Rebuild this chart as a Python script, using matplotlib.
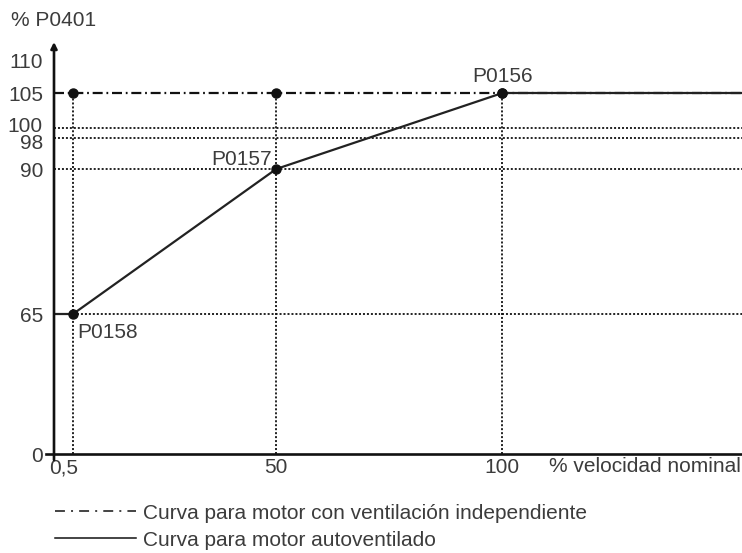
import numpy as np
import matplotlib.pyplot as plt
from matplotlib.lines import Line2D
from matplotlib.transforms import ScaledTranslation

# --- schematic torque-derating curve (non-linear axes) ---

# speed (% nominal) and current limit (% P0401)
speed_pts = [0.5, 50, 100]
self_vent = [65, 90, 105]          # P0158, P0157, P0156
indep_vent = [105, 105, 105]
point_names = ["P0158", "P0157", "P0156"]
y_ticks = [0, 65, 90, 98, 100, 105, 110]
x_ticks = [0.5, 50, 100]
x_tick_labels = ["0,5", "50", "100"]
x_end = 153

# knots for the schematic (piecewise linear) scales
x_knots = [0, 0.5, 50, 100, 160]
x_pos = [0, 19, 222, 448, 719]
y_knots = [0, 65, 90, 98, 100, 105, 110, 120]
y_pos = [0, 140, 285, 316, 326, 361, 394, 464]


def fwd_x(v):
    return np.interp(v, x_knots, x_pos)


def inv_x(p):
    return np.interp(p, x_pos, x_knots)


def fwd_y(v):
    return np.interp(v, y_knots, y_pos)


def inv_y(p):
    return np.interp(p, y_pos, y_knots)


plt.rcParams['font.family'] = ['Liberation Sans', 'DejaVu Sans']
txt_col = '#3c3c3c'
fs = 15

W, H = 742, 553
fig = plt.figure(figsize=(W / 100, H / 100), dpi=100)
ax = fig.add_axes([54 / W, (H - 454) / H, (W - 54) / W, (454 - 42) / H])
ax.set_xscale('function', functions=(fwd_x, inv_x))
ax.set_yscale('function', functions=(fwd_y, inv_y))
ax.set_xlim(0, x_end)
ax.set_ylim(0, inv_y(412))

for s in ax.spines.values():
    s.set_visible(False)

# axis lines with a small overhang, arrow on the vertical one
ax.plot([-8 / 688, 1], [0, 0], color='#111', lw=1.9, transform=ax.transAxes, clip_on=False)
ax.annotate('', xy=(0, 1.0), xytext=(0, -6 / 412), xycoords='axes fraction',
            arrowprops=dict(arrowstyle='-|>', color='#111', lw=1.9,
                            mutation_scale=9, shrinkA=0, shrinkB=0))

# grid guides
dot = dict(color='#111', lw=1.3, ls=(0, (1.1, 1.1)))
for yv in [65, 90, 98, 100]:
    ax.plot([speed_pts[0] if yv == 65 else 0, x_end], [yv, yv], **dot)
for xv in speed_pts:
    ax.plot([xv, xv], [0, 105], **dot)

# curves
ax.plot([0] + speed_pts + [x_end], [indep_vent[0]] + indep_vent + [indep_vent[-1]],
        color='#111', lw=1.6, ls=(0, (4.5, 1.7, 0.8, 1.7)))
ax.plot([0] + speed_pts + [x_end], [self_vent[0]] + self_vent + [self_vent[-1]],
        color='#222', lw=1.6)
ax.plot(speed_pts, indep_vent, 'o', color='#111', ms=6.5)
ax.plot(speed_pts, self_vent, 'o', color='#111', ms=6.5)

# point names
offsets = [(3, -17), (-3, 0), (0, 5)]
aligns = [('left', 'baseline'), ('right', 'bottom'), ('center', 'bottom')]
for x, y, name, off, (ha, va) in zip(speed_pts, self_vent, point_names, offsets, aligns):
    ax.annotate(name, (x, y), xytext=off, textcoords='offset points',
                ha=ha, va=va, fontsize=fs, color=txt_col)

ax.set_yticks(y_ticks)
ax.set_yticklabels([str(v) for v in y_ticks])
ax.set_xticks(x_ticks)
ax.set_xticklabels(x_tick_labels)
ax.tick_params(length=0, labelsize=fs, labelcolor=txt_col)
ax.tick_params(axis='y', pad=8)
ax.tick_params(axis='x', pad=3)
# nudge crowded labels apart, shift "0,5" left of its guide
shifts = {98: -3.5, 100: 4}
for v, lab in zip(y_ticks, ax.get_yticklabels()):
    if v in shifts:
        lab.set_transform(lab.get_transform() + ScaledTranslation(0, shifts[v] / 100, fig.dpi_scale_trans))
lbl = ax.get_xticklabels()[0]
lbl.set_transform(lbl.get_transform() + ScaledTranslation(-9 / 100, 0, fig.dpi_scale_trans))

fig.text(11 / W, 1 - 20 / H, '% P0401', fontsize=fs, color=txt_col, va='center')
fig.text(741 / W, 1 - 466 / H, '% velocidad nominal', fontsize=fs,
         color=txt_col, ha='right', va='center')

handles = [Line2D([], [], color='#111', lw=1.1, ls=(0, (6.5, 4, 1.3, 4))),
           Line2D([], [], color='#111', lw=1.1)]
fig.legend(handles, ['Curva para motor con ventilación independiente',
                     'Curva para motor autoventilado'],
           loc='upper left', bbox_to_anchor=(36 / W, 1 - 485 / H), frameon=False,
           handlelength=3.9, handletextpad=0.35, labelspacing=0.38,
           fontsize=fs, labelcolor=txt_col)

fig.savefig('out.png', dpi=100)
